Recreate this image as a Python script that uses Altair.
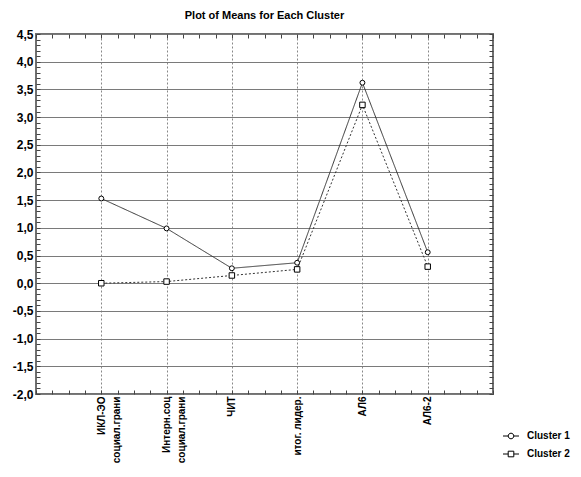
import altair as alt
import pandas as pd

categories = ["ИКЛ-ЭО|социал.грани", "Интерн.соц|социал.грани", "ЧИТ",
              "итог. лидер.", "АЛ6", "АЛ6-2"]
cluster1 = [1.53, 0.99, 0.27, 0.37, 3.62, 0.56]
cluster2 = [0.00, 0.03, 0.14, 0.25, 3.22, 0.30]
series = ["Cluster 1", "Cluster 2"]

rows = []
for name, vals in zip(series, [cluster1, cluster2]):
    for i, (c, v) in enumerate(zip(categories, vals)):
        rows.append({"idx": i + 1, "cat": c, "value": v, "series": name})
df = pd.DataFrame(rows)

FONT = "Liberation Sans"
xdom = [0, 7]
ydom = [-2.0, 4.5]
xminor = [i * 0.25 for i in range(0, 29)]
yminor = [round(-2.0 + i * 0.1, 1) for i in range(0, 66)]

label_arr = "[" + ",".join(
    "[" + ",".join("'" + p + "'" for p in c.split("|")) + "]" for c in categories
) + "]"
x_label_expr = ("datum.value % 1 === 0 && datum.value >= 1 && datum.value <= 6 ? "
                + label_arr + "[datum.value - 1] : ''")
y_label_expr = ("abs(round(datum.value*10)) % 5 === 0 ? "
                "((datum.value < -0.01 ? '-' : '') + replace(format(abs(datum.value), '.1f'), '.', ',')) : ''")

xs = alt.Scale(domain=xdom, nice=False, zero=False)
ys = alt.Scale(domain=ydom, nice=False, zero=False)

x_main = alt.X("idx:Q", scale=xs, title=None, axis=alt.Axis(
    orient="bottom", values=xminor, offset=-4, tickSize=4, tickColor="#444",
    domain=False, labelExpr=x_label_expr, labelAngle=-90, labelPadding=2,
    labelFont=FONT, labelFontSize=10, labelFontWeight="bold", labelColor="black",
    labelOverlap=False, labelBound=False, labelLineHeight=15, labelFlush=False,
    grid=True, gridColor="#888", gridDash=[2, 2], gridWidth=1,
    gridOpacity={"condition": {"test": "datum.value % 1 === 0 && datum.value >= 1 && datum.value <= 6", "value": 1}, "value": 0},
))
y_main = alt.Y("value:Q", scale=ys, title=None, axis=alt.Axis(
    orient="left", values=yminor, offset=-4, tickSize=4, tickColor="#444",
    domain=False, labelExpr=y_label_expr, labelPadding=3,
    labelFont=FONT, labelFontSize=12, labelFontWeight="bold", labelColor="black",
    labelOverlap=False, labelBound=False, labelFlush=False,
    grid=True, gridColor="#7a7a7a", gridWidth=1,
    gridOpacity={"condition": {"test": "abs(round(datum.value*10)) % 5 === 0", "value": 1}, "value": 0},
))

lines = alt.Chart(df).mark_line(color="#333", strokeWidth=1).encode(
    x=x_main, y=y_main,
    detail="series:N",
    strokeDash=alt.StrokeDash("series:N", legend=None,
                              scale=alt.Scale(domain=series, range=[[1, 0], [2, 2]])),
)

x_top = alt.X("idx:Q", scale=xs, title=None, axis=alt.Axis(
    orient="top", values=xminor, offset=-4, tickSize=4, tickColor="#444",
    domain=False, labels=False, grid=False))
y_right = alt.Y("value:Q", scale=ys, title=None, axis=alt.Axis(
    orient="right", values=yminor, offset=-4, tickSize=4, tickColor="#444",
    domain=False, labels=False, grid=False))

points = alt.Chart(df).mark_point(color="black", fill="white", filled=False,
                                  strokeWidth=1, opacity=1, fillOpacity=1).encode(
    x=x_top, y=y_right,
    shape=alt.Shape("series:N", legend=None,
                    scale=alt.Scale(domain=series, range=["circle", "square"])),
    size=alt.Size("series:N", legend=None,
                  scale=alt.Scale(domain=series, range=[24, 30])),
)

circ_path = "M-2,0L-0.7,0M0.7,0L2,0M-0.7,0A0.7,0.7,0,1,1,0.7,0A0.7,0.7,0,1,1,-0.7,0Z"
sq_path = "M-2,0L-0.7,0M0.7,0L2,0M-0.7,-0.7L0.7,-0.7L0.7,0.7L-0.7,0.7Z"

legend_layer = alt.Chart(df).transform_filter("false").mark_point(
    color="black", filled=False, strokeWidth=1, size=64).encode(
    x=alt.X("idx:Q", scale=xs, axis=None),
    y=alt.Y("value:Q", scale=ys, axis=None),
    shape=alt.Shape("series:N", title=None,
                    scale=alt.Scale(domain=series, range=[circ_path, sq_path]),
                    legend=alt.Legend(orient="none", legendX=470, legendY=397,
                                      labelFont=FONT, labelFontSize=10,
                                      labelFontWeight="bold", labelColor="black",
                                      labelOffset=11, rowPadding=8,
                                      symbolStrokeColor="black", symbolStrokeWidth=1,
                                      symbolSize=64, symbolOpacity=1)),
)

chart = alt.layer(lines, points, legend_layer).resolve_scale(
    shape="independent", size="independent", strokeDash="independent"
).resolve_axis(x="independent", y="independent").properties(
    width=457, height=360,
    autosize=alt.AutoSizeParams(type="none"),
    padding={"left": 28, "top": 26, "right": 80, "bottom": 69},
    title=alt.Title("Plot of Means for Each Cluster", font=FONT, fontSize=11,
                    fontWeight="bold", color="black", offset=7, anchor="middle"),
).configure_view(stroke="#707070", strokeWidth=2)

chart.save("out.html", embed_options={"renderer": "svg", "actions": False})
